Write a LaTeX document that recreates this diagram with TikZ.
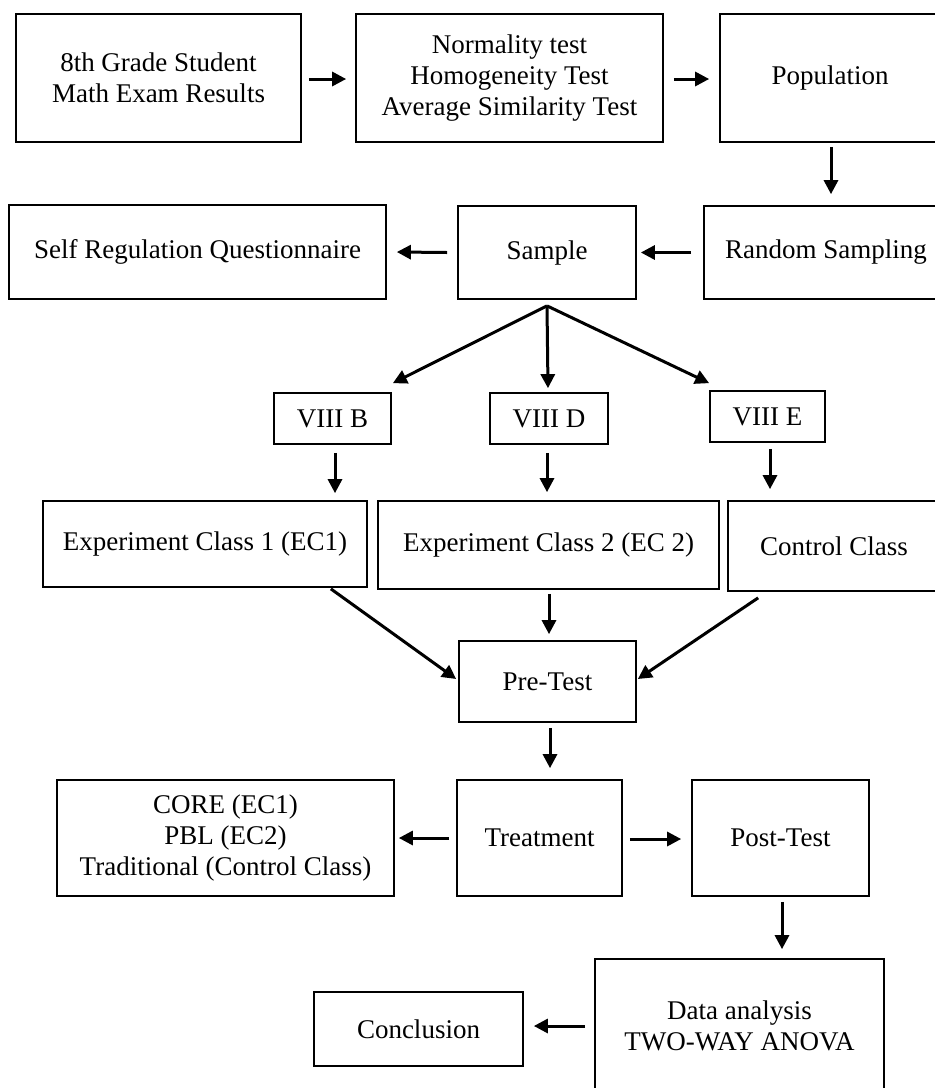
\documentclass[tikz,border=0pt]{standalone}
\usepackage{fontspec}
\setmainfont{Liberation Serif}
\usetikzlibrary{arrows.meta,calc}
\begin{document}
\begin{tikzpicture}[x=1pt,y=-1pt,
  box/.style={draw, line width=1.7pt, align=center, inner sep=0pt, font=\fontsize{27}{31}\selectfont},
  arr/.style={line width=3pt, -{Triangle[length=14pt,width=14pt]}}]
\clip (0,0) rectangle (935,1088);
\fill[white] (0,0) rectangle (935,1088);

\node[box, minimum width=285pt, minimum height=128pt] (b1) at (158.5,78) {8th Grade Student\\Math Exam Results};
\node[box, minimum width=307pt, minimum height=128pt] (norm) at (509.5,78) {Normality test\\Homogeneity Test\\Average Similarity Test};
\node[box, minimum width=220pt, minimum height=128pt] (pop) at (830,78) {Population};
\node[box, minimum width=244pt, minimum height=93pt] (rs) at (826,252.5) {Random Sampling};
\node[box, minimum width=178pt, minimum height=93pt] (sample) at (547,252.5) {Sample};
\node[box, minimum width=377pt, minimum height=94pt] (selfreg) at (197.5,252) {Self Regulation Questionnaire};
\node[box, minimum width=117pt, minimum height=51pt] (vb) at (332.5,418.5) {VIII B};
\node[box, minimum width=118pt, minimum height=51pt] (vd) at (549,418.5) {VIII D};
\node[box, minimum width=115pt, minimum height=51pt] (ve) at (767.5,416.5) {VIII E};
\node[box, minimum width=324pt, minimum height=86pt] (ec1) at (205,544) {Experiment Class 1 (EC1)};
\node[box, minimum width=341pt, minimum height=88pt] (ec2) at (548.5,545) {Experiment Class 2 (EC 2)};
\node[box, minimum width=212pt, minimum height=90pt] (ctrl) at (834,546) {Control Class};
\node[box, minimum width=177pt, minimum height=81pt] (pre) at (547.5,681.5) {Pre-Test};
\node[box, minimum width=337pt, minimum height=116pt] (core) at (225.5,838) {CORE (EC1)\\PBL (EC2)\\Traditional (Control Class)};
\node[box, minimum width=165pt, minimum height=116pt] (treat) at (539.5,838) {Treatment};
\node[box, minimum width=177pt, minimum height=116pt] (post) at (780.5,838) {Post-Test};
\node[box, minimum width=289pt, minimum height=134pt] (data) at (739.5,1026) {Data analysis\\TWO-WAY ANOVA};
\node[box, minimum width=209pt, minimum height=74pt] (concl) at (418.5,1029) {Conclusion};

\draw[arr] ($(b1.east)+(7,1)$) -- ($(norm.west)+(-9,1)$);
\draw[arr] ($(norm.east)+(10,1)$) -- ($(pop.west)+(-10,1)$);
\draw[arr] ($(pop.south)+(1,4)$) -- ($(rs.north)+(5,-11)$);
\draw[arr] ($(rs.west)+(-12,0)$) -- ($(sample.east)+(4,0)$);
\draw[arr] ($(sample.west)+(-10,0)$) -- ($(selfreg.east)+(10,0)$);
\coordinate (fan) at ($(sample.south)+(0,6)$);
\draw[arr] (fan) -- ($(vb.north east)+(1,-9)$);
\draw[arr] (fan) -- ($(vd.north)+(-1,-4)$);
\draw[arr] (fan) -- ($(ve.north west)+(0,-7)$);
\draw[arr] ($(vb.south)+(2.5,8)$) -- ($(ec1.north)+(130,-7)$);
\draw[arr] ($(vd.south)+(-2,8)$) -- ($(ec2.north)+(-1.5,-8)$);
\draw[arr] ($(ve.south)+(2.5,6)$) -- ($(ctrl.north)+(-64,-11)$);
\draw[arr] ($(ec1.south east)+(-37,1)$) -- ($(pre.west)+(-2,-2.5)$);
\draw[arr] ($(ec2.south)+(0.5,4)$) -- ($(pre.north)+(1.5,-6)$);
\draw[arr] ($(ctrl.south west)+(31,6)$) -- ($(pre.east)+(1,-2.5)$);
\draw[arr] ($(pre.south)+(2.5,5)$) -- ($(treat.north)+(10.5,-11)$);
\draw[arr] ($(treat.west)+(-7,0)$) -- ($(core.east)+(4,0)$);
\draw[arr] ($(treat.east)+(7,1)$) -- ($(post.west)+(-10,1)$);
\draw[arr] ($(post.south)+(1.5,5)$) -- ($(data.north)+(42.5,-9)$);
\draw[arr] ($(data.west)+(-9,0)$) -- ($(concl.east)+(10,-3)$);
\end{tikzpicture}
\end{document}
